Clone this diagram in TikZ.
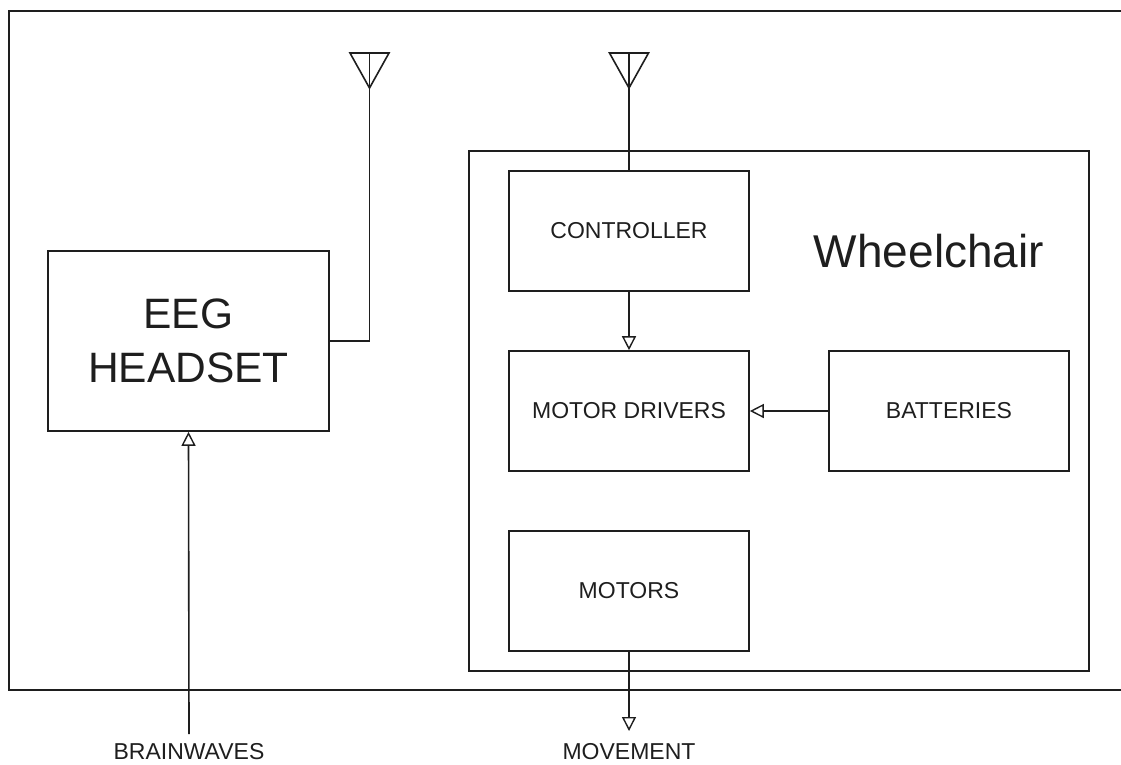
\documentclass[tikz,border=0pt]{standalone}
\usepackage{fontspec}
\setmainfont{Liberation Sans}
\usetikzlibrary{arrows.meta}
\definecolor{ink}{HTML}{1E1E1E}
\tikzset{
  blk/.style={draw=ink, line width=1.6pt, minimum width=240pt, minimum height=120pt, inner sep=0pt,
    text=ink, font=\fontsize{23}{27}\selectfont},
  lbl/.style={text=ink, inner sep=0pt, font=\fontsize{23}{27}\selectfont},
  wire/.style={draw=ink, line width=1.6pt},
  arr/.style={wire, -{Triangle[open, length=14pt, width=14pt, line width=1.4pt]}},
}
\begin{document}
\begin{tikzpicture}[x=1pt,y=-1pt]
\useasboundingbox (0,0) rectangle (1121,764);
% outer frame (open on the right)
\draw[wire, line width=1.9pt] (1121,11) -- (9,11) -- (9,690) -- (1121,690);
% wheelchair frame
\node[draw=ink, line width=1.6pt, minimum width=620pt, minimum height=520pt, inner sep=0pt] (wc) at (779,411) {};
\node[text=ink, inner sep=0pt, font=\fontsize{46}{50}\selectfont] (wct) at (929,251) {Wheelchair};
% boxes
\node[draw=ink, line width=1.6pt, minimum width=281pt, minimum height=180pt, inner sep=0pt, align=center,
  text=ink, font=\fontsize{42.5}{54}\selectfont] (eeg) at (188.5,341) {EEG\\HEADSET};
\node[blk] (ctrl) at (629,231) {CONTROLLER};
\node[blk] (drv) at (629,411) {MOTOR DRIVERS};
\node[blk] (bat) at (949,411) {BATTERIES};
\node[blk] (mot) at (629,591) {MOTORS};
% labels
\node[lbl] (bw) at (189,752) {BRAINWAVES};
\node[lbl] (mv) at (629,752) {MOVEMENT};
% antennas
\coordinate (a1t) at (369.5,53);
\coordinate (a1b) at (369.5,88);
\coordinate (a1c) at (369.5,341);
\draw[wire, line join=miter] (350,53) -- (389,53) -- (a1b) -- cycle;
\draw[wire] (a1t) -- (a1b) -- (a1c) -- (eeg.east |- a1c);
\coordinate (a2t) at (629,53);
\coordinate (a2b) at (629,88);
\draw[wire, line join=miter] (609.5,53) -- (648.5,53) -- (a2b) -- cycle;
\draw[wire] (a2t) -- (a2b) -- (ctrl.north);
% arrows
\coordinate (bws) at (189,734);
\draw[arr] (bws) -- (eeg.south);
\draw[arr] (ctrl.south) -- (drv.north);
\draw[arr] (bat.west) -- (drv.east);
\coordinate (mve) at (629,731);
\draw[arr] (mot.south) -- (mve);
\end{tikzpicture}
\end{document}
